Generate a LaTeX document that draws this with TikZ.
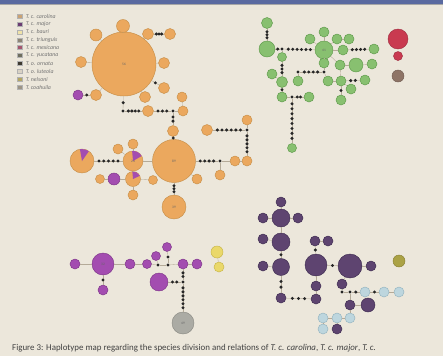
\documentclass[tikz,border=0pt]{standalone}
\usepackage{fontspec}
\setmainfont{Carlito}
\usepackage{xcolor}
\usetikzlibrary{positioning}

\definecolor{paper}{HTML}{ECE7DB}
\definecolor{band}{HTML}{5A6AA0}
\definecolor{caroF}{HTML}{EBA85E}
\definecolor{caroD}{HTML}{C8904A}
\definecolor{purF}{HTML}{A34DB0}
\definecolor{purD}{HTML}{7E3588}
\definecolor{grnF}{HTML}{88C070}
\definecolor{grnD}{HTML}{5E9A4A}
\definecolor{redF}{HTML}{C93A50}
\definecolor{redD}{HTML}{A02C40}
\definecolor{brwF}{HTML}{8E7466}
\definecolor{dprF}{HTML}{5E4470}
\definecolor{dprD}{HTML}{3E2C50}
\definecolor{lbluF}{HTML}{BDD6DE}
\definecolor{lbluD}{HTML}{94B4C0}
\definecolor{gryF}{HTML}{ABABA4}
\definecolor{gryD}{HTML}{8A8A84}
\definecolor{yelF}{HTML}{EAD86A}
\definecolor{yelD}{HTML}{C8B648}
\definecolor{oliF}{HTML}{ABA245}
\definecolor{oliD}{HTML}{8A8232}
\definecolor{linkC}{HTML}{B4AA98}
\definecolor{legA}{HTML}{C9A274}
\definecolor{legB}{HTML}{6B3C72}
\definecolor{legC}{HTML}{EFE2A8}
\definecolor{legD}{HTML}{8C8474}
\definecolor{legE}{HTML}{A4566E}
\definecolor{legF}{HTML}{6E6E5E}
\definecolor{legG}{HTML}{3E3A30}
\definecolor{legH}{HTML}{D9D2C4}
\definecolor{legI}{HTML}{B3A664}
\definecolor{legJ}{HTML}{9C9484}

\tikzset{
  hap/.style={circle, inner sep=0pt, line width=0.4pt, minimum size=#1*0.3mm,
    font=\fontsize{3}{3}\selectfont, text=black!60},
  caro/.style={hap=#1, draw=caroD, fill=caroF},
  purp/.style={hap=#1, draw=purD, fill=purF},
  grn/.style={hap=#1, draw=grnD, fill=grnF},
  redh/.style={hap=#1, draw=redD, fill=redF},
  brwn/.style={hap=#1, draw=brwF!80!black, fill=brwF},
  dprp/.style={hap=#1, draw=dprD, fill=dprF},
  lblu/.style={hap=#1, draw=lbluD, fill=lbluF},
  gryh/.style={hap=#1, draw=gryD, fill=gryF},
  yelh/.style={hap=#1, draw=yelD, fill=yelF},
  olive/.style={hap=#1, draw=oliD, fill=oliF},
  mdot/.style={circle, fill=black!85, inner sep=0pt, minimum size=1mm},
  link/.style={draw=linkC, line width=0.3pt},
  legbox/.style={draw=black!30, line width=0.2pt, minimum width=1.5mm, minimum height=1.2mm, inner sep=0pt},
  legtext/.style={font=\fontsize{5}{5}\selectfont\itshape, text=black!55, inner sep=0.5pt},
  capt/.style={font=\fontsize{7.6}{9}\selectfont, text=black!75, inner sep=0pt}
}

% connector with n mutation steps drawn as dots
\newcommand{\hapchain}[3]{%
  \draw[link] (#1) -- (#2);
  \foreach \k in {1,...,#3}{%
    \pgfmathsetmacro{\hpos}{\k/(#3+1)}%
    \path (#1) -- (#2) node[mdot, pos=\hpos] {};
  }%
}

\begin{document}
\begin{tikzpicture}[x=0.03cm, y=-0.03cm]
    % Page and top band
    \fill[paper] (0,0) rectangle (443,356);
    \clip (0,0) rectangle (443,356);
    \fill[band] (0,0) rectangle (443,4);
    \fill[black!35] (0,4) rectangle (443,5);

    % Legend
    \foreach \c/\t [count=\i from 0] in {legA/T. c. carolina, legB/T. c. major, legC/T. c. bauri,
        legD/T. c. triunguis, legE/T. c. mexicana, legF/T. c. yucatana, legG/T. o. ornata,
        legH/T. o. luteola, legI/T. nelsoni, legJ/T. coahuila} {
      \node[legbox, fill=\c] (lg\i) at (20, 16+7.9*\i) {};
      \node[legtext, right=2pt of lg\i] (lt\i) {\t};
    }

    % T. c. carolina, upper group
    \node[caro=64] (c56) at (124,64) {56};
    \node[caro=13] (c1) at (123,26) {};
    \node[caro=12] (c2) at (96,35) {};
    \node[caro=11] (c3) at (81,62) {};
    \node[caro=11] (c4) at (96,95) {};
    \node[purp=10] (p1) at (78,95) {};
    \node[caro=11] (c5) at (145,97) {};
    \node[caro=11] (c6) at (164,88) {};
    \node[caro=11] (c7) at (164,63) {};
    \node[caro=11] (c8) at (148,34) {};
    \node[caro=11] (c9) at (170,34) {};
    \node[mdot] (k1) at (123,111) {};
    \node[caro=11] (c10) at (148,111) {};
    \node[mdot] (k2) at (173,111) {};
    \node[caro=10] (c11) at (183,111) {};
    \node[caro=10] (c12) at (182,97) {};
    \node[caro=11] (c13) at (173,131) {};

    \foreach \n in {c1,c2,c3,c4,c5,c7,c8} \draw[link] (c56) -- (\n);
    \hapchain{c56}{c6}{1}
    \hapchain{c8}{c9}{3}
    \hapchain{c4}{p1}{1}
    \hapchain{c56}{k1}{1}
    \hapchain{k1}{c10}{4}
    \hapchain{c10}{k2}{3}
    \draw[link] (k2) -- (c11);
    \draw[link] (c11) -- (c12);
    \hapchain{k2}{c13}{2}

    % T. c. carolina, lower group
    \node[caro=43] (c89) at (174,161) {89};
    \node[caro=10] (c14) at (197,179) {};
    \node[mdot] (k3) at (220,161) {};
    \node[caro=10] (c15) at (220,175) {};
    \node[caro=10] (c16) at (235,161) {};
    \node[caro=10] (c17) at (247,161) {};
    \node[mdot] (k4) at (247,130) {};
    \node[caro=10] (c18) at (247,120) {};
    \node[caro=11] (c19) at (207,130) {};
    \node[caro=24] (c39) at (174,207) {39};
    \node[caro=20] (c24) at (133,161) {};
    \node[caro=10] (c20) at (133,144) {};
    \node[caro=10] (c21) at (118,149) {};
    \node[caro=15] (c22) at (133,179) {};
    \node[caro=9] (c23) at (153,180) {};
    \node[caro=10] (c25) at (133,195) {};
    \node[purp=12] (p2) at (114,179) {};
    \node[caro=9] (c26) at (100,179) {};
    \node[caro=24] (c27) at (82,161) {};

    % purple shares in mixed haplotypes
    \fill[purF] (c27.center) -- ++(55:0.36cm) arc[start angle=55, end angle=100, radius=0.36cm] -- cycle;
    \fill[purF] (c24.center) -- ++(30:0.3cm) arc[start angle=30, end angle=95, radius=0.3cm] -- cycle;
    \fill[purF] (c22.center) -- ++(25:0.225cm) arc[start angle=25, end angle=95, radius=0.225cm] -- cycle;
    \node[font=\fontsize{3}{3}\selectfont, text=black!60] at (c24) {24};

    \hapchain{c13}{c89}{1}
    \draw[link] (c89) -- (c14);
    \hapchain{c89}{k3}{4}
    \draw[link] (k3) -- (c15);
    \draw[link] (k3) -- (c16);
    \draw[link] (c16) -- (c17);
    \hapchain{c17}{k4}{5}
    \draw[link] (k4) -- (c18);
    \hapchain{k4}{c19}{6}
    \hapchain{c89}{c39}{3}
    \draw[link] (c89) -- (c24);
    \foreach \n in {c20,c21,c22} \draw[link] (c24) -- (\n);
    \foreach \n in {c23,c25,p2} \draw[link] (c22) -- (\n);
    \draw[link] (p2) -- (c26);
    \hapchain{c24}{c27}{5}

    % green group
    \node[grn=11] (g1) at (267,23) {};
    \node[grn=16] (g2) at (267,49) {};
    \node[mdot] (k5) at (282,49) {};
    \node[grn=18] (g41) at (324,50) {41};
    \node[grn=10] (g3) at (324,32) {};
    \node[grn=10] (g4) at (310,39) {};
    \node[grn=10] (g5) at (337,39) {};
    \node[grn=10] (g6) at (349,39) {};
    \node[grn=10] (g7) at (343,50) {};
    \node[grn=10] (g8) at (374,49) {};
    \node[grn=10] (g9) at (324,63) {};
    \node[grn=10] (g10) at (340,65) {};
    \node[grn=14] (g11) at (356,65) {};
    \node[grn=10] (g12) at (372,64) {};
    \node[grn=9] (g13) at (282,57) {};
    \node[grn=11] (g14) at (282,82) {};
    \node[grn=10] (g15) at (272,74) {};
    \node[grn=10] (g16) at (282,97) {};
    \node[mdot] (k6) at (292,97) {};
    \node[grn=10] (g17) at (309,97) {};
    \node[grn=9] (g18) at (292,148) {};
    \node[mdot] (k7) at (298,72) {};
    \node[mdot] (k8) at (324,72) {};
    \node[grn=10] (g19) at (298,81) {};
    \node[grn=10] (g20) at (328,81) {};
    \node[grn=10] (g21) at (341,81) {};
    \node[grn=10] (g22) at (365,80) {};
    \node[grn=10] (g23) at (351,89) {};
    \node[grn=10] (g24) at (341,100) {};

    \hapchain{g1}{g2}{3}
    \hapchain{g2}{k5}{1}
    \hapchain{k5}{g41}{6}
    \draw[link] (k5) -- (g13);
    \foreach \n in {g3,g4,g5,g7,g9,g10} \draw[link] (g41) -- (\n);
    \draw[link] (g5) -- (g6);
    \hapchain{g7}{g8}{4}
    \draw[link] (g10) -- (g11);
    \draw[link] (g11) -- (g12);
    \hapchain{g13}{g14}{3}
    \draw[link] (g14) -- (g15);
    \hapchain{g14}{g16}{1}
    \draw[link] (g16) -- (k6);
    \hapchain{k6}{g17}{2}
    \hapchain{k6}{g18}{8}
    \draw[link] (g9) -- (k8);
    \hapchain{k8}{k7}{4}
    \draw[link] (k7) -- (g19);
    \draw[link] (k8) -- (g20);
    \draw[link] (g20) -- (g21);
    \draw[link] (g10) -- (g21);
    \draw[link] (g21) -- (g23);
    \hapchain{g21}{g22}{2}
    \hapchain{g21}{g24}{1}

    % separate haplotypes, right
    \node[redh=20] (r1) at (398,39) {};
    \node[redh=9] (r2) at (398,56) {};
    \node[brwn=12] (r3) at (398,76) {};

    % purple group, lower left
    \node[purp=10] (m1) at (75,264) {};
    \node[purp=22] (m32) at (103,264) {32};
    \node[purp=10] (m2) at (130,264) {};
    \node[purp=9] (m3) at (147,264) {};
    \node[mdot] (k9) at (158,265) {};
    \node[mdot] (k10) at (168,265) {};
    \node[purp=10] (m4) at (183,264) {};
    \node[purp=10] (m5) at (197,264) {};
    \node[purp=10] (m6) at (103,290) {};
    \node[purp=9] (m7) at (156,256) {};
    \node[purp=9] (m8) at (167,247) {};
    \node[mdot] (k11) at (168,257) {};
    \node[purp=18] (m9) at (159,282) {};
    \node[mdot] (k12) at (183,282) {};
    \node[gryh=22] (y49) at (183,323) {49};
    \node[yelh=12] (y1) at (217,252) {};
    \node[yelh=10] (y2) at (219,267) {};

    \draw[link] (m1) -- (m32);
    \draw[link] (m32) -- (m2);
    \draw[link] (m2) -- (m3);
    \draw[link] (m3) -- (k9);
    \draw[link] (k9) -- (k10);
    \draw[link] (k10) -- (m4);
    \draw[link] (m4) -- (m5);
    \hapchain{m32}{m6}{1}
    \draw[link] (k9) -- (m7);
    \draw[link] (k10) -- (k11);
    \draw[link] (k11) -- (m8);
    \hapchain{m4}{k12}{2}
    \hapchain{k12}{y49}{6}
    \hapchain{m9}{k12}{2}
    \draw[link] (y1) -- (y2);

    % dark group, lower right
    \node[dprp=10] (d1) at (281,202) {};
    \node[dprp=18] (d2) at (281,218) {};
    \node[dprp=10] (d3) at (263,218) {};
    \node[dprp=10] (d4) at (298,218) {};
    \node[dprp=18] (d5) at (281,242) {};
    \node[dprp=10] (d6) at (263,239) {};
    \node[dprp=17] (d7) at (281,267) {};
    \node[dprp=10] (d8) at (263,266) {};
    \node[dprp=10] (d9) at (281,298) {};
    \node[dprp=10] (d10) at (316,299) {};
    \node[dprp=10] (d11) at (316,286) {};
    \node[dprp=22] (d35) at (316,265) {};
    \node[dprp=10] (d12) at (315,241) {};
    \node[dprp=10] (d13) at (328,241) {};
    \node[dprp=24] (d14) at (350,266) {};
    \node[dprp=10] (d15) at (371,266) {};
    \node[dprp=10] (d16) at (342,284) {};
    \node[mdot] (k13) at (342,292) {};
    \node[mdot] (k14) at (350,292) {};
    \node[lblu=10] (l1) at (365,292) {};
    \node[lblu=10] (l2) at (384,292) {};
    \node[lblu=10] (l3) at (399,292) {};
    \node[dprp=10] (d17) at (350,305) {};
    \node[dprp=14] (d18) at (368,305) {};
    \node[lblu=10] (l4) at (350,318) {};
    \node[lblu=10] (l5) at (337,318) {};
    \node[lblu=10] (l6) at (323,318) {};
    \node[lblu=10] (l7) at (323,329) {};
    \node[dprp=10] (d19) at (337,329) {};
    \node[olive=12] (n1) at (399,261) {};

    \foreach \n in {d1,d3,d4,d5} \draw[link] (d2) -- (\n);
    \draw[link] (d5) -- (d6);
    \hapchain{d5}{d7}{1}
    \draw[link] (d7) -- (d8);
    \hapchain{d7}{d9}{2}
    \hapchain{d9}{d10}{3}
    \draw[link] (d10) -- (d11);
    \draw[link] (d11) -- (d35);
    \hapchain{d35}{d12}{1}
    \draw[link] (d12) -- (d13);
    \hapchain{d35}{d14}{1}
    \draw[link] (d14) -- (d15);
    \draw[link] (d14) -- (d16);
    \draw[link] (d16) -- (k13);
    \draw[link] (k13) -- (k14);
    \hapchain{k14}{l1}{1}
    \hapchain{l1}{l2}{1}
    \draw[link] (l2) -- (l3);
    \draw[link] (k14) -- (d17);
    \draw[link] (d17) -- (d18);
    \draw[link] (d17) -- (l4);
    \draw[link] (l4) -- (l5);
    \draw[link] (l5) -- (l6);
    \draw[link] (l6) -- (l7);
    \draw[link] (l5) -- (d19);

    % Caption
    \node[capt, anchor=north west] (cap) at (12,344) {Figure 3: Haplotype map regarding the species division and relations of \textit{T. c. carolina}, \textit{T. c. major}, \textit{T. c.}};
\end{tikzpicture}
\end{document}
